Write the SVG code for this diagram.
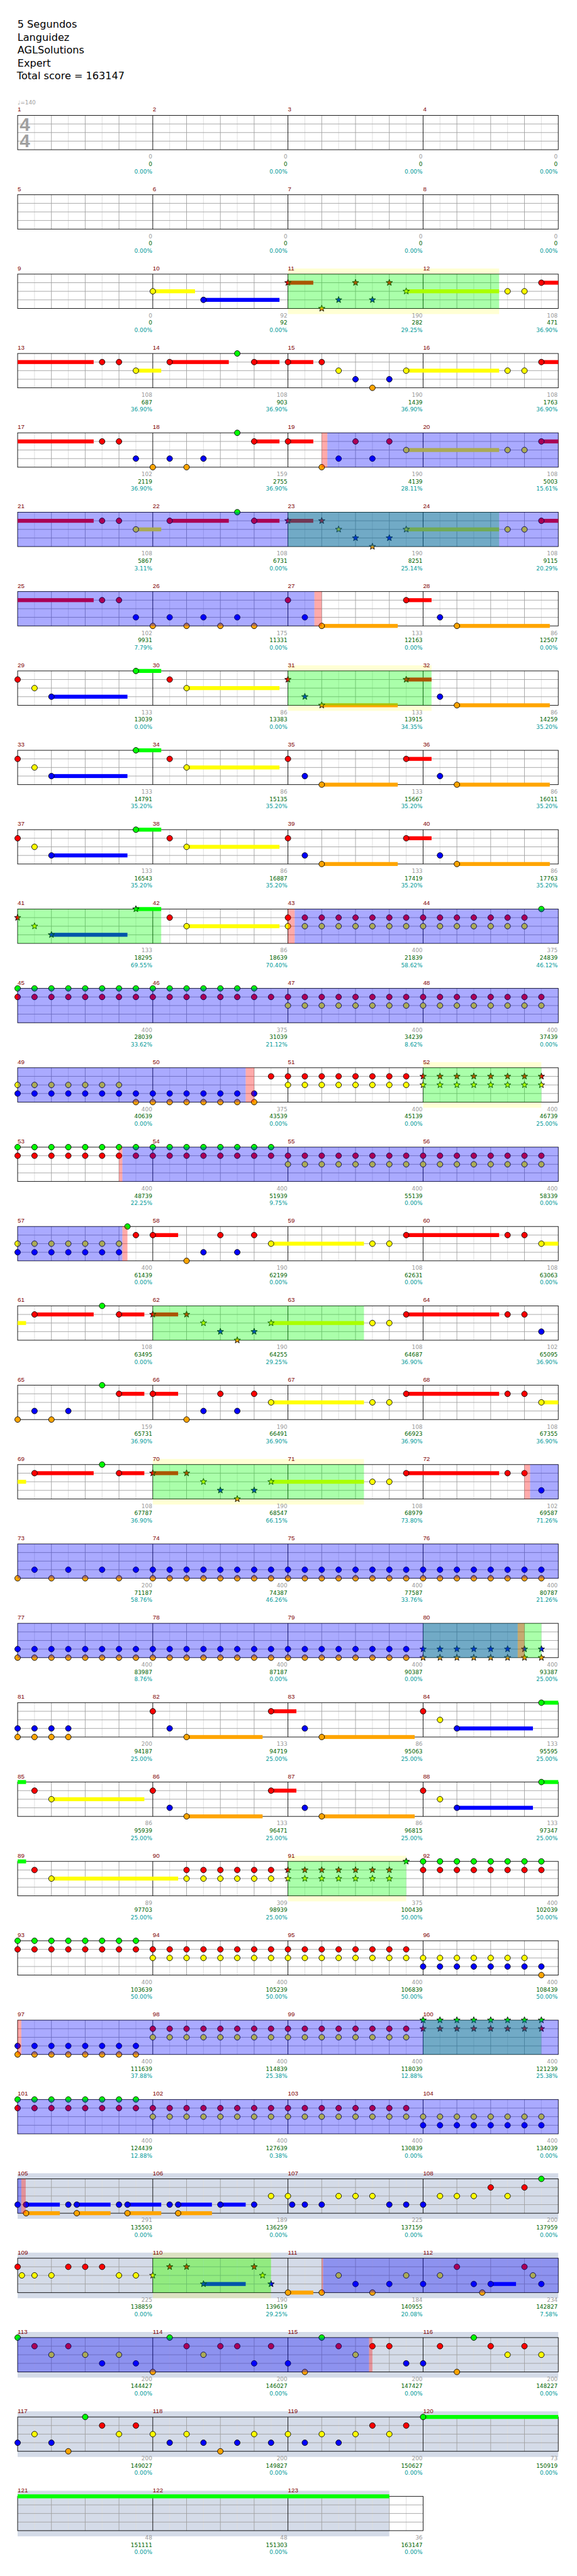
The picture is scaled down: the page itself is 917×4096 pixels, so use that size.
<svg xmlns="http://www.w3.org/2000/svg" width="917" height="4096" viewBox="0 0 917 4096">
<style>
.hd{font-family:"DejaVu Sans",sans-serif;font-size:18px;fill:#000}
.mn{font-family:"Liberation Sans",Arial,sans-serif;font-size:11px;fill:#800000}
.sc{font-family:"DejaVu Sans",Verdana,sans-serif;font-size:10px;text-anchor:end}
.ts{font-family:"Liberation Sans",Arial,sans-serif;font-weight:bold;font-size:33px;fill:#a0a0a0}
.tp{font-family:"DejaVu Sans",sans-serif;font-size:10px;fill:#a0a0a0}
.a{fill:#999}.b{fill:#006400}.c{fill:#009a9a}
.n{stroke:#000;stroke-width:1}
.og{fill:#0f0;fill-opacity:.333}
.ob{fill:#00f;fill-opacity:.333}
.op{fill:#f00;fill-opacity:.333}
.yb{fill:#ff0;fill-opacity:.17}
.gb{fill:#d4dbe8}
.wb{fill:#fff}
.lG{fill:#0f0}.lR{fill:#f00}.lY{fill:#ff0}.lB{fill:#00f}.lO{fill:#ffa500}
</style>
<defs>
<circle id="G" r="5" class="n" fill="#0f0"/>
<circle id="R" r="5" cy="15.25" class="n" fill="#f00"/>
<circle id="Y" r="5" cy="30.5" class="n" fill="#ff0"/>
<circle id="B" r="5" cy="45.75" class="n" fill="#00f"/>
<circle id="O" r="5" cy="61" class="n" fill="#ffa500"/>
<path id="st" d="M0,-6L1.47,-2.02L5.71,-1.85L2.38,0.77L3.53,4.85L0,2.5L-3.53,4.85L-2.38,0.77L-5.71,-1.85L-1.47,-2.02Z"/>
<use id="sG" href="#st" class="n" fill="#0f0"/>
<use id="sR" href="#st" y="15.25" class="n" fill="#f00"/>
<use id="sY" href="#st" y="30.5" class="n" fill="#ff0"/>
<use id="sB" href="#st" y="45.75" class="n" fill="#00f"/>
<use id="sO" href="#st" y="61" class="n" fill="#ffa500"/>
<g id="G8"><use href="#G"/><use href="#G" x="30"/><use href="#G" x="60"/><use href="#G" x="90"/><use href="#G" x="120"/><use href="#G" x="150"/><use href="#G" x="180"/><use href="#G" x="210"/></g>
<g id="R8"><use href="#R"/><use href="#R" x="30"/><use href="#R" x="60"/><use href="#R" x="90"/><use href="#R" x="120"/><use href="#R" x="150"/><use href="#R" x="180"/><use href="#R" x="210"/></g>
<g id="Y8"><use href="#Y"/><use href="#Y" x="30"/><use href="#Y" x="60"/><use href="#Y" x="90"/><use href="#Y" x="120"/><use href="#Y" x="150"/><use href="#Y" x="180"/><use href="#Y" x="210"/></g>
<g id="B8"><use href="#B"/><use href="#B" x="30"/><use href="#B" x="60"/><use href="#B" x="90"/><use href="#B" x="120"/><use href="#B" x="150"/><use href="#B" x="180"/><use href="#B" x="210"/></g>
<g id="O8"><use href="#O"/><use href="#O" x="30"/><use href="#O" x="60"/><use href="#O" x="90"/><use href="#O" x="120"/><use href="#O" x="150"/><use href="#O" x="180"/><use href="#O" x="210"/></g>
<g id="sG8"><use href="#sG"/><use href="#sG" x="30"/><use href="#sG" x="60"/><use href="#sG" x="90"/><use href="#sG" x="120"/><use href="#sG" x="150"/><use href="#sG" x="180"/><use href="#sG" x="210"/></g>
<g id="sR8"><use href="#sR"/><use href="#sR" x="30"/><use href="#sR" x="60"/><use href="#sR" x="90"/><use href="#sR" x="120"/><use href="#sR" x="150"/><use href="#sR" x="180"/><use href="#sR" x="210"/></g>
<g id="sY8"><use href="#sY"/><use href="#sY" x="30"/><use href="#sY" x="60"/><use href="#sY" x="90"/><use href="#sY" x="120"/><use href="#sY" x="150"/><use href="#sY" x="180"/><use href="#sY" x="210"/></g>
<g id="sB8"><use href="#sB"/><use href="#sB" x="30"/><use href="#sB" x="60"/><use href="#sB" x="90"/><use href="#sB" x="120"/><use href="#sB" x="150"/><use href="#sB" x="180"/><use href="#sB" x="210"/></g>
<g id="sO8"><use href="#sO"/><use href="#sO" x="30"/><use href="#sO" x="60"/><use href="#sO" x="90"/><use href="#sO" x="120"/><use href="#sO" x="150"/><use href="#sO" x="180"/><use href="#sO" x="210"/></g>
<g id="grid4" fill="none">
<path stroke="#dcdcdc" d="M30,0V61M90,0V61M150,0V61M210,0V61M270,0V61M330,0V61M390,0V61M450,0V61M510,0V61M570,0V61M630,0V61M690,0V61M750,0V61M810,0V61M870,0V61M930,0V61"/>
<path stroke="#a0a0a0" d="M0,15.25H960M0,30.5H960M0,45.75H960M60,0V61M120,0V61M180,0V61M300,0V61M360,0V61M420,0V61M540,0V61M600,0V61M660,0V61M780,0V61M840,0V61M900,0V61"/>
<path stroke="#000" d="M240,0V61M480,0V61M720,0V61"/>
<rect width="960" height="61" stroke="#000"/>
</g>
<g id="grid3" fill="none">
<path stroke="#dcdcdc" d="M30,0V61M90,0V61M150,0V61M210,0V61M270,0V61M330,0V61M390,0V61M450,0V61M510,0V61M570,0V61M630,0V61M690,0V61"/>
<path stroke="#a0a0a0" d="M0,15.25H720M0,30.5H720M0,45.75H720M60,0V61M120,0V61M180,0V61M300,0V61M360,0V61M420,0V61M540,0V61M600,0V61M660,0V61"/>
<path stroke="#000" d="M240,0V61M480,0V61"/>
<rect width="720" height="61" stroke="#000"/>
</g>
</defs>
<rect width="917" height="4096" fill="#fff"/>
<g transform="scale(0.895)">
<g id="header">
<text class="hd" x="31" y="49">5 Segundos</text>
<text class="hd" x="31" y="72.5">Languidez</text>
<text class="hd" x="31" y="95">AGLSolutions</text>
<text class="hd" x="31" y="118">Expert</text>
<text class="hd" x="30" y="141">Total score = 163147</text>
</g>

<g id="row-1" transform="translate(31.3,205)">
<use href="#grid4"/>
<text class="ts" x="3.7" y="27.3">4</text><text class="ts" x="3.7" y="56.7">4</text>
<text class="tp" x="0" y="-20">♩=140</text>
<text class="mn" y="-6.7"><tspan x="0">1</tspan><tspan x="240">2</tspan><tspan x="480">3</tspan><tspan x="720">4</tspan></text>
<text class="sc"><tspan class="a" x="239" y="77">0</tspan><tspan class="b" x="239" y="90">0</tspan><tspan class="c" x="239" y="103">0.00%</tspan><tspan class="a" x="479" y="77">0</tspan><tspan class="b" x="479" y="90">0</tspan><tspan class="c" x="479" y="103">0.00%</tspan><tspan class="a" x="719" y="77">0</tspan><tspan class="b" x="719" y="90">0</tspan><tspan class="c" x="719" y="103">0.00%</tspan><tspan class="a" x="959" y="77">0</tspan><tspan class="b" x="959" y="90">0</tspan><tspan class="c" x="959" y="103">0.00%</tspan></text>
</g>

<g id="row-2" transform="translate(31.3,346)">
<use href="#grid4"/>
<text class="mn" y="-6.7"><tspan x="0">5</tspan><tspan x="240">6</tspan><tspan x="480">7</tspan><tspan x="720">8</tspan></text>
<text class="sc"><tspan class="a" x="239" y="77">0</tspan><tspan class="b" x="239" y="90">0</tspan><tspan class="c" x="239" y="103">0.00%</tspan><tspan class="a" x="479" y="77">0</tspan><tspan class="b" x="479" y="90">0</tspan><tspan class="c" x="479" y="103">0.00%</tspan><tspan class="a" x="719" y="77">0</tspan><tspan class="b" x="719" y="90">0</tspan><tspan class="c" x="719" y="103">0.00%</tspan><tspan class="a" x="959" y="77">0</tspan><tspan class="b" x="959" y="90">0</tspan><tspan class="c" x="959" y="103">0.00%</tspan></text>
</g>

<g id="row-3" transform="translate(31.3,487)">
<rect class="yb" x="480" y="-10" width="375" height="81"/>
<rect class="wb" width="960" height="61"/>
<use href="#grid4"/>
<rect class="lY" x="240" y="27" width="75" height="7"/><rect class="lB" x="330" y="42.25" width="135" height="7"/><rect class="lR" x="480" y="11.75" width="45" height="7"/><rect class="lY" x="690" y="27" width="165" height="7"/><rect class="lR" x="930" y="11.75" width="30" height="7"/>
<use href="#Y" x="240"/><use href="#B" x="330"/><use href="#sR" x="480"/><use href="#sO" x="540"/><use href="#sB" x="570"/><use href="#sR" x="600"/><use href="#sB" x="630"/><use href="#sR" x="660"/><use href="#sY" x="690"/><use href="#Y" x="870"/><use href="#Y" x="900"/><use href="#R" x="930"/>
<rect class="og" x="480" width="375" height="61"/>
<text class="mn" y="-6.7"><tspan x="0">9</tspan><tspan x="240">10</tspan><tspan x="480">11</tspan><tspan x="720">12</tspan></text>
<text class="sc"><tspan class="a" x="239" y="77">0</tspan><tspan class="b" x="239" y="90">0</tspan><tspan class="c" x="239" y="103">0.00%</tspan><tspan class="a" x="479" y="77">92</tspan><tspan class="b" x="479" y="90">92</tspan><tspan class="c" x="479" y="103">0.00%</tspan><tspan class="a" x="719" y="77">190</tspan><tspan class="b" x="719" y="90">282</tspan><tspan class="c" x="719" y="103">29.25%</tspan><tspan class="a" x="959" y="77">108</tspan><tspan class="b" x="959" y="90">471</tspan><tspan class="c" x="959" y="103">36.90%</tspan></text>
</g>

<g id="row-4" transform="translate(31.3,628)">
<use href="#grid4"/>
<rect class="lR" x="0" y="11.75" width="135" height="7"/><rect class="lY" x="210" y="27" width="45" height="7"/><rect class="lR" x="270" y="11.75" width="105" height="7"/><rect class="lR" x="420" y="11.75" width="45" height="7"/><rect class="lR" x="480" y="11.75" width="45" height="7"/><rect class="lY" x="690" y="27" width="165" height="7"/><rect class="lR" x="930" y="11.75" width="30" height="7"/>
<use href="#R" x="150"/><use href="#R" x="180"/><use href="#Y" x="210"/><use href="#R" x="270"/><use href="#G" x="390"/><use href="#R" x="420"/><use href="#R" x="480"/><use href="#R" x="540"/><use href="#Y" x="570"/><use href="#B" x="600"/><use href="#O" x="630"/><use href="#B" x="660"/><use href="#Y" x="690"/><use href="#Y" x="870"/><use href="#Y" x="900"/><use href="#R" x="930"/>
<text class="mn" y="-6.7"><tspan x="0">13</tspan><tspan x="240">14</tspan><tspan x="480">15</tspan><tspan x="720">16</tspan></text>
<text class="sc"><tspan class="a" x="239" y="77">108</tspan><tspan class="b" x="239" y="90">687</tspan><tspan class="c" x="239" y="103">36.90%</tspan><tspan class="a" x="479" y="77">108</tspan><tspan class="b" x="479" y="90">903</tspan><tspan class="c" x="479" y="103">36.90%</tspan><tspan class="a" x="719" y="77">190</tspan><tspan class="b" x="719" y="90">1439</tspan><tspan class="c" x="719" y="103">36.90%</tspan><tspan class="a" x="959" y="77">108</tspan><tspan class="b" x="959" y="90">1763</tspan><tspan class="c" x="959" y="103">36.90%</tspan></text>
</g>

<g id="row-5" transform="translate(31.3,769)">
<use href="#grid4"/>
<rect class="lR" x="0" y="11.75" width="135" height="7"/><rect class="lR" x="420" y="11.75" width="45" height="7"/><rect class="lR" x="480" y="11.75" width="45" height="7"/><rect class="lY" x="690" y="27" width="165" height="7"/><rect class="lR" x="930" y="11.75" width="30" height="7"/>
<use href="#R" x="150"/><use href="#R" x="180"/><use href="#B" x="210"/><use href="#O" x="240"/><use href="#B" x="270"/><use href="#O" x="300"/><use href="#B" x="330"/><use href="#G" x="390"/><use href="#R" x="420"/><use href="#R" x="480"/><use href="#O" x="540"/><use href="#B" x="570"/><use href="#R" x="600"/><use href="#B" x="630"/><use href="#R" x="660"/><use href="#Y" x="690"/><use href="#Y" x="870"/><use href="#Y" x="900"/><use href="#R" x="930"/>
<rect class="op" x="540" width="10" height="61"/><rect class="ob" x="550" width="410" height="61"/>
<text class="mn" y="-6.7"><tspan x="0">17</tspan><tspan x="240">18</tspan><tspan x="480">19</tspan><tspan x="720">20</tspan></text>
<text class="sc"><tspan class="a" x="239" y="77">102</tspan><tspan class="b" x="239" y="90">2119</tspan><tspan class="c" x="239" y="103">36.90%</tspan><tspan class="a" x="479" y="77">159</tspan><tspan class="b" x="479" y="90">2755</tspan><tspan class="c" x="479" y="103">36.90%</tspan><tspan class="a" x="719" y="77">190</tspan><tspan class="b" x="719" y="90">4139</tspan><tspan class="c" x="719" y="103">28.11%</tspan><tspan class="a" x="959" y="77">108</tspan><tspan class="b" x="959" y="90">5003</tspan><tspan class="c" x="959" y="103">15.61%</tspan></text>
</g>

<g id="row-6" transform="translate(31.3,910)">
<use href="#grid4"/>
<rect class="lR" x="0" y="11.75" width="135" height="7"/><rect class="lY" x="210" y="27" width="45" height="7"/><rect class="lR" x="270" y="11.75" width="105" height="7"/><rect class="lR" x="420" y="11.75" width="45" height="7"/><rect class="lR" x="480" y="11.75" width="45" height="7"/><rect class="lY" x="690" y="27" width="165" height="7"/><rect class="lR" x="930" y="11.75" width="30" height="7"/>
<use href="#R" x="150"/><use href="#R" x="180"/><use href="#Y" x="210"/><use href="#R" x="270"/><use href="#G" x="390"/><use href="#R" x="420"/><use href="#sR" x="480"/><use href="#sR" x="540"/><use href="#sY" x="570"/><use href="#sB" x="600"/><use href="#sO" x="630"/><use href="#sB" x="660"/><use href="#sY" x="690"/><use href="#Y" x="870"/><use href="#Y" x="900"/><use href="#R" x="930"/>
<rect class="og" x="480" width="375" height="61"/><rect class="ob" width="960" height="61"/>
<text class="mn" y="-6.7"><tspan x="0">21</tspan><tspan x="240">22</tspan><tspan x="480">23</tspan><tspan x="720">24</tspan></text>
<text class="sc"><tspan class="a" x="239" y="77">108</tspan><tspan class="b" x="239" y="90">5867</tspan><tspan class="c" x="239" y="103">3.11%</tspan><tspan class="a" x="479" y="77">108</tspan><tspan class="b" x="479" y="90">6731</tspan><tspan class="c" x="479" y="103">0.00%</tspan><tspan class="a" x="719" y="77">190</tspan><tspan class="b" x="719" y="90">8251</tspan><tspan class="c" x="719" y="103">25.14%</tspan><tspan class="a" x="959" y="77">108</tspan><tspan class="b" x="959" y="90">9115</tspan><tspan class="c" x="959" y="103">20.29%</tspan></text>
</g>

<g id="row-7" transform="translate(31.3,1051)">
<use href="#grid4"/>
<rect class="lR" x="0" y="11.75" width="135" height="7"/><rect class="lO" x="540" y="57.5" width="135" height="7"/><rect class="lR" x="690" y="11.75" width="45" height="7"/><rect class="lO" x="780" y="57.5" width="165" height="7"/>
<use href="#R" x="150"/><use href="#R" x="180"/><use href="#B" x="210"/><use href="#O" x="240"/><use href="#B" x="270"/><use href="#O" x="300"/><use href="#B" x="330"/><use href="#O" x="360"/><use href="#B" x="390"/><use href="#O" x="420"/><use href="#R" x="480"/><use href="#B" x="510"/><use href="#O" x="540"/><use href="#R" x="690"/><use href="#B" x="750"/><use href="#O" x="780"/>
<rect class="ob" width="527" height="61"/><rect class="op" x="527" width="13" height="61"/>
<text class="mn" y="-6.7"><tspan x="0">25</tspan><tspan x="240">26</tspan><tspan x="480">27</tspan><tspan x="720">28</tspan></text>
<text class="sc"><tspan class="a" x="239" y="77">102</tspan><tspan class="b" x="239" y="90">9931</tspan><tspan class="c" x="239" y="103">7.79%</tspan><tspan class="a" x="479" y="77">175</tspan><tspan class="b" x="479" y="90">11331</tspan><tspan class="c" x="479" y="103">0.00%</tspan><tspan class="a" x="719" y="77">133</tspan><tspan class="b" x="719" y="90">12163</tspan><tspan class="c" x="719" y="103">0.00%</tspan><tspan class="a" x="959" y="77">86</tspan><tspan class="b" x="959" y="90">12507</tspan><tspan class="c" x="959" y="103">0.00%</tspan></text>
</g>

<g id="row-8" transform="translate(31.3,1192)">
<rect class="yb" x="480" y="-10" width="255" height="81"/>
<rect class="wb" width="960" height="61"/>
<use href="#grid4"/>
<rect class="lB" x="60" y="42.25" width="135" height="7"/><rect class="lG" x="210" y="-3.5" width="45" height="7"/><rect class="lY" x="300" y="27" width="165" height="7"/><rect class="lO" x="540" y="57.5" width="135" height="7"/><rect class="lR" x="690" y="11.75" width="45" height="7"/><rect class="lO" x="780" y="57.5" width="165" height="7"/>
<use href="#R"/><use href="#Y" x="30"/><use href="#B" x="60"/><use href="#G" x="210"/><use href="#R" x="270"/><use href="#Y" x="300"/><use href="#sR" x="480"/><use href="#sB" x="510"/><use href="#sO" x="540"/><use href="#sR" x="690"/><use href="#B" x="750"/><use href="#O" x="780"/>
<rect class="og" x="480" width="255" height="61"/>
<text class="mn" y="-6.7"><tspan x="0">29</tspan><tspan x="240">30</tspan><tspan x="480">31</tspan><tspan x="720">32</tspan></text>
<text class="sc"><tspan class="a" x="239" y="77">133</tspan><tspan class="b" x="239" y="90">13039</tspan><tspan class="c" x="239" y="103">0.00%</tspan><tspan class="a" x="479" y="77">86</tspan><tspan class="b" x="479" y="90">13383</tspan><tspan class="c" x="479" y="103">0.00%</tspan><tspan class="a" x="719" y="77">133</tspan><tspan class="b" x="719" y="90">13915</tspan><tspan class="c" x="719" y="103">34.35%</tspan><tspan class="a" x="959" y="77">86</tspan><tspan class="b" x="959" y="90">14259</tspan><tspan class="c" x="959" y="103">35.20%</tspan></text>
</g>

<g id="row-9" transform="translate(31.3,1333)">
<use href="#grid4"/>
<rect class="lB" x="60" y="42.25" width="135" height="7"/><rect class="lG" x="210" y="-3.5" width="45" height="7"/><rect class="lY" x="300" y="27" width="165" height="7"/><rect class="lO" x="540" y="57.5" width="135" height="7"/><rect class="lR" x="690" y="11.75" width="45" height="7"/><rect class="lO" x="780" y="57.5" width="165" height="7"/>
<use href="#R"/><use href="#Y" x="30"/><use href="#B" x="60"/><use href="#G" x="210"/><use href="#R" x="270"/><use href="#Y" x="300"/><use href="#R" x="480"/><use href="#B" x="510"/><use href="#O" x="540"/><use href="#R" x="690"/><use href="#B" x="750"/><use href="#O" x="780"/>
<text class="mn" y="-6.7"><tspan x="0">33</tspan><tspan x="240">34</tspan><tspan x="480">35</tspan><tspan x="720">36</tspan></text>
<text class="sc"><tspan class="a" x="239" y="77">133</tspan><tspan class="b" x="239" y="90">14791</tspan><tspan class="c" x="239" y="103">35.20%</tspan><tspan class="a" x="479" y="77">86</tspan><tspan class="b" x="479" y="90">15135</tspan><tspan class="c" x="479" y="103">35.20%</tspan><tspan class="a" x="719" y="77">133</tspan><tspan class="b" x="719" y="90">15667</tspan><tspan class="c" x="719" y="103">35.20%</tspan><tspan class="a" x="959" y="77">86</tspan><tspan class="b" x="959" y="90">16011</tspan><tspan class="c" x="959" y="103">35.20%</tspan></text>
</g>

<g id="row-10" transform="translate(31.3,1474)">
<use href="#grid4"/>
<rect class="lB" x="60" y="42.25" width="135" height="7"/><rect class="lG" x="210" y="-3.5" width="45" height="7"/><rect class="lY" x="300" y="27" width="165" height="7"/><rect class="lO" x="540" y="57.5" width="135" height="7"/><rect class="lR" x="690" y="11.75" width="45" height="7"/><rect class="lO" x="780" y="57.5" width="165" height="7"/>
<use href="#R"/><use href="#Y" x="30"/><use href="#B" x="60"/><use href="#G" x="210"/><use href="#R" x="270"/><use href="#Y" x="300"/><use href="#R" x="480"/><use href="#B" x="510"/><use href="#O" x="540"/><use href="#R" x="690"/><use href="#B" x="750"/><use href="#O" x="780"/>
<text class="mn" y="-6.7"><tspan x="0">37</tspan><tspan x="240">38</tspan><tspan x="480">39</tspan><tspan x="720">40</tspan></text>
<text class="sc"><tspan class="a" x="239" y="77">133</tspan><tspan class="b" x="239" y="90">16543</tspan><tspan class="c" x="239" y="103">35.20%</tspan><tspan class="a" x="479" y="77">86</tspan><tspan class="b" x="479" y="90">16887</tspan><tspan class="c" x="479" y="103">35.20%</tspan><tspan class="a" x="719" y="77">133</tspan><tspan class="b" x="719" y="90">17419</tspan><tspan class="c" x="719" y="103">35.20%</tspan><tspan class="a" x="959" y="77">86</tspan><tspan class="b" x="959" y="90">17763</tspan><tspan class="c" x="959" y="103">35.20%</tspan></text>
</g>

<g id="row-11" transform="translate(31.3,1615)">
<use href="#grid4"/>
<rect class="lB" x="60" y="42.25" width="135" height="7"/><rect class="lG" x="210" y="-3.5" width="45" height="7"/><rect class="lY" x="300" y="27" width="165" height="7"/>
<use href="#sR"/><use href="#sY" x="30"/><use href="#sB" x="60"/><use href="#sG" x="210"/><use href="#R" x="270"/><use href="#Y" x="300"/>
<use href="#R8" x="480"/><use href="#R" x="720"/><use href="#R" x="750"/><use href="#R" x="780"/><use href="#R" x="810"/><use href="#R" x="840"/><use href="#R" x="870"/><use href="#R" x="900"/>
<use href="#Y8" x="480"/><use href="#Y" x="720"/><use href="#Y" x="750"/><use href="#Y" x="780"/><use href="#Y" x="810"/><use href="#Y" x="840"/><use href="#Y" x="870"/><use href="#Y" x="900"/><use href="#G" x="930"/>
<rect class="og" width="255" height="61"/><rect class="op" x="480" width="12" height="61"/><rect class="ob" x="492" width="468" height="61"/>
<text class="mn" y="-6.7"><tspan x="0">41</tspan><tspan x="240">42</tspan><tspan x="480">43</tspan><tspan x="720">44</tspan></text>
<text class="sc"><tspan class="a" x="239" y="77">133</tspan><tspan class="b" x="239" y="90">18295</tspan><tspan class="c" x="239" y="103">69.55%</tspan><tspan class="a" x="479" y="77">86</tspan><tspan class="b" x="479" y="90">18639</tspan><tspan class="c" x="479" y="103">70.40%</tspan><tspan class="a" x="719" y="77">400</tspan><tspan class="b" x="719" y="90">21839</tspan><tspan class="c" x="719" y="103">58.62%</tspan><tspan class="a" x="959" y="77">375</tspan><tspan class="b" x="959" y="90">24839</tspan><tspan class="c" x="959" y="103">46.12%</tspan></text>
</g>

<g id="row-12" transform="translate(31.3,1756)">
<use href="#grid4"/>
<use href="#G8"/><use href="#G" x="240"/><use href="#G" x="270"/><use href="#G" x="300"/><use href="#G" x="330"/><use href="#G" x="360"/><use href="#G" x="390"/><use href="#G" x="420"/>
<use href="#R8"/><use href="#R8" x="240"/><use href="#R8" x="480"/><use href="#R8" x="720"/>
<use href="#Y8" x="480"/><use href="#Y8" x="720"/>
<rect class="ob" width="960" height="61"/>
<text class="mn" y="-6.7"><tspan x="0">45</tspan><tspan x="240">46</tspan><tspan x="480">47</tspan><tspan x="720">48</tspan></text>
<text class="sc"><tspan class="a" x="239" y="77">400</tspan><tspan class="b" x="239" y="90">28039</tspan><tspan class="c" x="239" y="103">33.62%</tspan><tspan class="a" x="479" y="77">375</tspan><tspan class="b" x="479" y="90">31039</tspan><tspan class="c" x="479" y="103">21.12%</tspan><tspan class="a" x="719" y="77">400</tspan><tspan class="b" x="719" y="90">34239</tspan><tspan class="c" x="719" y="103">8.62%</tspan><tspan class="a" x="959" y="77">400</tspan><tspan class="b" x="959" y="90">37439</tspan><tspan class="c" x="959" y="103">0.00%</tspan></text>
</g>

<g id="row-13" transform="translate(31.3,1897)">
<rect class="yb" x="720" y="-10" width="210" height="81"/>
<rect class="wb" width="960" height="61"/>
<use href="#grid4"/>
<use href="#Y"/><use href="#Y" x="30"/><use href="#Y" x="60"/><use href="#Y" x="90"/><use href="#Y" x="120"/><use href="#Y" x="150"/><use href="#Y" x="180"/>
<use href="#B8"/><use href="#B" x="240"/><use href="#B" x="270"/><use href="#B" x="300"/><use href="#B" x="330"/><use href="#B" x="360"/><use href="#B" x="390"/><use href="#B" x="420"/>
<use href="#O8" x="210"/><use href="#R" x="450"/><use href="#R8" x="480"/><use href="#Y8" x="480"/><use href="#sR8" x="720"/><use href="#sY8" x="720"/>
<rect class="ob" width="405" height="61"/><rect class="op" x="405" width="15" height="61"/><rect class="og" x="720" width="210" height="61"/>
<text class="mn" y="-6.7"><tspan x="0">49</tspan><tspan x="240">50</tspan><tspan x="480">51</tspan><tspan x="720">52</tspan></text>
<text class="sc"><tspan class="a" x="239" y="77">400</tspan><tspan class="b" x="239" y="90">40639</tspan><tspan class="c" x="239" y="103">0.00%</tspan><tspan class="a" x="479" y="77">375</tspan><tspan class="b" x="479" y="90">43539</tspan><tspan class="c" x="479" y="103">0.00%</tspan><tspan class="a" x="719" y="77">400</tspan><tspan class="b" x="719" y="90">45139</tspan><tspan class="c" x="719" y="103">0.00%</tspan><tspan class="a" x="959" y="77">400</tspan><tspan class="b" x="959" y="90">46739</tspan><tspan class="c" x="959" y="103">25.00%</tspan></text>
</g>

<g id="row-14" transform="translate(31.3,2038)">
<use href="#grid4"/>
<use href="#G8"/><use href="#G8" x="240"/>
<use href="#R8"/><use href="#R8" x="240"/><use href="#R8" x="480"/><use href="#R8" x="720"/>
<use href="#Y8" x="480"/><use href="#Y8" x="720"/>
<rect class="op" x="180" width="6" height="61"/><rect class="ob" x="186" width="774" height="61"/>
<text class="mn" y="-6.7"><tspan x="0">53</tspan><tspan x="240">54</tspan><tspan x="480">55</tspan><tspan x="720">56</tspan></text>
<text class="sc"><tspan class="a" x="239" y="77">400</tspan><tspan class="b" x="239" y="90">48739</tspan><tspan class="c" x="239" y="103">22.25%</tspan><tspan class="a" x="479" y="77">400</tspan><tspan class="b" x="479" y="90">51939</tspan><tspan class="c" x="479" y="103">9.75%</tspan><tspan class="a" x="719" y="77">400</tspan><tspan class="b" x="719" y="90">55139</tspan><tspan class="c" x="719" y="103">0.00%</tspan><tspan class="a" x="959" y="77">400</tspan><tspan class="b" x="959" y="90">58339</tspan><tspan class="c" x="959" y="103">0.00%</tspan></text>
</g>

<g id="row-15" transform="translate(31.3,2179)">
<use href="#grid4"/>
<rect class="lR" x="240" y="11.75" width="45" height="7"/><rect class="lY" x="450" y="27" width="165" height="7"/><rect class="lR" x="690" y="11.75" width="165" height="7"/><rect class="lY" x="930" y="27" width="30" height="7"/>
<use href="#Y"/><use href="#Y" x="30"/><use href="#Y" x="60"/><use href="#Y" x="90"/><use href="#Y" x="120"/><use href="#Y" x="150"/><use href="#Y" x="180"/>
<use href="#B"/><use href="#B" x="30"/><use href="#B" x="60"/><use href="#B" x="90"/><use href="#B" x="120"/><use href="#B" x="150"/><use href="#B" x="180"/>
<use href="#G" x="195"/><use href="#R" x="210"/><use href="#R" x="240"/><use href="#O" x="300"/><use href="#B" x="330"/><use href="#R" x="360"/><use href="#B" x="390"/><use href="#R" x="420"/><use href="#Y" x="450"/><use href="#Y" x="630"/><use href="#Y" x="660"/><use href="#R" x="690"/><use href="#R" x="870"/><use href="#R" x="900"/><use href="#Y" x="930"/>
<rect class="ob" width="186" height="61"/><rect class="op" x="186" width="9" height="61"/>
<text class="mn" y="-6.7"><tspan x="0">57</tspan><tspan x="240">58</tspan><tspan x="480">59</tspan><tspan x="720">60</tspan></text>
<text class="sc"><tspan class="a" x="239" y="77">400</tspan><tspan class="b" x="239" y="90">61439</tspan><tspan class="c" x="239" y="103">0.00%</tspan><tspan class="a" x="479" y="77">190</tspan><tspan class="b" x="479" y="90">62199</tspan><tspan class="c" x="479" y="103">0.00%</tspan><tspan class="a" x="719" y="77">108</tspan><tspan class="b" x="719" y="90">62631</tspan><tspan class="c" x="719" y="103">0.00%</tspan><tspan class="a" x="959" y="77">108</tspan><tspan class="b" x="959" y="90">63063</tspan><tspan class="c" x="959" y="103">0.00%</tspan></text>
</g>

<g id="row-16" transform="translate(31.3,2320)">
<use href="#grid4"/>
<rect class="lY" x="0" y="27" width="15" height="7"/><rect class="lR" x="30" y="11.75" width="105" height="7"/><rect class="lR" x="180" y="11.75" width="45" height="7"/><rect class="lR" x="240" y="11.75" width="45" height="7"/><rect class="lY" x="450" y="27" width="165" height="7"/><rect class="lR" x="690" y="11.75" width="165" height="7"/>
<use href="#R" x="30"/><use href="#G" x="150"/><use href="#R" x="180"/><use href="#sR" x="240"/><use href="#sR" x="300"/><use href="#sY" x="330"/><use href="#sB" x="360"/><use href="#sO" x="390"/><use href="#sB" x="420"/><use href="#sY" x="450"/><use href="#Y" x="630"/><use href="#Y" x="660"/><use href="#R" x="690"/><use href="#R" x="870"/><use href="#R" x="900"/><use href="#B" x="930"/>
<rect class="og" x="240" width="375" height="61"/>
<text class="mn" y="-6.7"><tspan x="0">61</tspan><tspan x="240">62</tspan><tspan x="480">63</tspan><tspan x="720">64</tspan></text>
<text class="sc"><tspan class="a" x="239" y="77">108</tspan><tspan class="b" x="239" y="90">63495</tspan><tspan class="c" x="239" y="103">0.00%</tspan><tspan class="a" x="479" y="77">190</tspan><tspan class="b" x="479" y="90">64255</tspan><tspan class="c" x="479" y="103">29.25%</tspan><tspan class="a" x="719" y="77">108</tspan><tspan class="b" x="719" y="90">64687</tspan><tspan class="c" x="719" y="103">36.90%</tspan><tspan class="a" x="959" y="77">102</tspan><tspan class="b" x="959" y="90">65095</tspan><tspan class="c" x="959" y="103">36.90%</tspan></text>
</g>

<g id="row-17" transform="translate(31.3,2461)">
<use href="#grid4"/>
<rect class="lR" x="180" y="11.75" width="45" height="7"/><rect class="lR" x="240" y="11.75" width="45" height="7"/><rect class="lY" x="450" y="27" width="165" height="7"/><rect class="lR" x="690" y="11.75" width="165" height="7"/><rect class="lY" x="930" y="27" width="30" height="7"/>
<use href="#O"/><use href="#B" x="30"/><use href="#O" x="60"/><use href="#B" x="90"/><use href="#G" x="150"/><use href="#R" x="180"/><use href="#R" x="240"/><use href="#O" x="300"/><use href="#B" x="330"/><use href="#R" x="360"/><use href="#B" x="390"/><use href="#R" x="420"/><use href="#Y" x="450"/><use href="#Y" x="630"/><use href="#Y" x="660"/><use href="#R" x="690"/><use href="#R" x="870"/><use href="#R" x="900"/><use href="#Y" x="930"/>
<text class="mn" y="-6.7"><tspan x="0">65</tspan><tspan x="240">66</tspan><tspan x="480">67</tspan><tspan x="720">68</tspan></text>
<text class="sc"><tspan class="a" x="239" y="77">159</tspan><tspan class="b" x="239" y="90">65731</tspan><tspan class="c" x="239" y="103">36.90%</tspan><tspan class="a" x="479" y="77">190</tspan><tspan class="b" x="479" y="90">66491</tspan><tspan class="c" x="479" y="103">36.90%</tspan><tspan class="a" x="719" y="77">108</tspan><tspan class="b" x="719" y="90">66923</tspan><tspan class="c" x="719" y="103">36.90%</tspan><tspan class="a" x="959" y="77">108</tspan><tspan class="b" x="959" y="90">67355</tspan><tspan class="c" x="959" y="103">36.90%</tspan></text>
</g>

<g id="row-18" transform="translate(31.3,2602)">
<rect class="yb" x="240" y="-10" width="375" height="81"/>
<rect class="wb" width="960" height="61"/>
<use href="#grid4"/>
<rect class="lY" x="0" y="27" width="15" height="7"/><rect class="lR" x="30" y="11.75" width="105" height="7"/><rect class="lR" x="180" y="11.75" width="45" height="7"/><rect class="lR" x="240" y="11.75" width="45" height="7"/><rect class="lY" x="450" y="27" width="165" height="7"/><rect class="lR" x="690" y="11.75" width="165" height="7"/>
<use href="#R" x="30"/><use href="#G" x="150"/><use href="#R" x="180"/><use href="#sR" x="240"/><use href="#sR" x="300"/><use href="#sY" x="330"/><use href="#sB" x="360"/><use href="#sO" x="390"/><use href="#sB" x="420"/><use href="#sY" x="450"/><use href="#Y" x="630"/><use href="#Y" x="660"/><use href="#R" x="690"/><use href="#R" x="870"/><use href="#R" x="900"/><use href="#B" x="930"/>
<rect class="og" x="240" width="375" height="61"/><rect class="op" x="900" width="10" height="61"/><rect class="ob" x="910" width="50" height="61"/>
<text class="mn" y="-6.7"><tspan x="0">69</tspan><tspan x="240">70</tspan><tspan x="480">71</tspan><tspan x="720">72</tspan></text>
<text class="sc"><tspan class="a" x="239" y="77">108</tspan><tspan class="b" x="239" y="90">67787</tspan><tspan class="c" x="239" y="103">36.90%</tspan><tspan class="a" x="479" y="77">190</tspan><tspan class="b" x="479" y="90">68547</tspan><tspan class="c" x="479" y="103">66.15%</tspan><tspan class="a" x="719" y="77">108</tspan><tspan class="b" x="719" y="90">68979</tspan><tspan class="c" x="719" y="103">73.80%</tspan><tspan class="a" x="959" y="77">102</tspan><tspan class="b" x="959" y="90">69587</tspan><tspan class="c" x="959" y="103">71.26%</tspan></text>
</g>

<g id="row-19" transform="translate(31.3,2743)">
<use href="#grid4"/>
<use href="#O"/><use href="#O" x="60"/><use href="#O" x="120"/><use href="#O" x="180"/><use href="#B" x="30"/><use href="#B" x="90"/><use href="#B" x="150"/><use href="#B" x="210"/>
<use href="#B8" x="240"/><use href="#B8" x="480"/><use href="#B8" x="720"/><use href="#O8" x="240"/><use href="#O8" x="480"/><use href="#O8" x="720"/>
<rect class="ob" width="960" height="61"/>
<text class="mn" y="-6.7"><tspan x="0">73</tspan><tspan x="240">74</tspan><tspan x="480">75</tspan><tspan x="720">76</tspan></text>
<text class="sc"><tspan class="a" x="239" y="77">200</tspan><tspan class="b" x="239" y="90">71187</tspan><tspan class="c" x="239" y="103">58.76%</tspan><tspan class="a" x="479" y="77">400</tspan><tspan class="b" x="479" y="90">74387</tspan><tspan class="c" x="479" y="103">46.26%</tspan><tspan class="a" x="719" y="77">400</tspan><tspan class="b" x="719" y="90">77587</tspan><tspan class="c" x="719" y="103">33.76%</tspan><tspan class="a" x="959" y="77">400</tspan><tspan class="b" x="959" y="90">80787</tspan><tspan class="c" x="959" y="103">21.26%</tspan></text>
</g>

<g id="row-20" transform="translate(31.3,2884)">
<use href="#grid4"/>
<use href="#B8"/><use href="#B8" x="240"/><use href="#B8" x="480"/><use href="#O8"/><use href="#O8" x="240"/><use href="#O8" x="480"/><use href="#sB8" x="720"/><use href="#sO8" x="720"/>
<rect class="og" x="720" width="210" height="61"/><rect class="ob" width="888" height="61"/><rect class="op" x="888" width="12" height="61"/>
<text class="mn" y="-6.7"><tspan x="0">77</tspan><tspan x="240">78</tspan><tspan x="480">79</tspan><tspan x="720">80</tspan></text>
<text class="sc"><tspan class="a" x="239" y="77">400</tspan><tspan class="b" x="239" y="90">83987</tspan><tspan class="c" x="239" y="103">8.76%</tspan><tspan class="a" x="479" y="77">400</tspan><tspan class="b" x="479" y="90">87187</tspan><tspan class="c" x="479" y="103">0.00%</tspan><tspan class="a" x="719" y="77">400</tspan><tspan class="b" x="719" y="90">90387</tspan><tspan class="c" x="719" y="103">0.00%</tspan><tspan class="a" x="959" y="77">400</tspan><tspan class="b" x="959" y="90">93387</tspan><tspan class="c" x="959" y="103">25.00%</tspan></text>
</g>

<g id="row-21" transform="translate(31.3,3025)">
<use href="#grid4"/>
<rect class="lO" x="300" y="57.5" width="135" height="7"/><rect class="lR" x="450" y="11.75" width="45" height="7"/><rect class="lO" x="540" y="57.5" width="165" height="7"/><rect class="lB" x="780" y="42.25" width="135" height="7"/><rect class="lG" x="930" y="-3.5" width="30" height="7"/>
<use href="#B"/><use href="#B" x="30"/><use href="#B" x="60"/><use href="#B" x="90"/><use href="#O"/><use href="#O" x="30"/><use href="#O" x="60"/><use href="#O" x="90"/>
<use href="#R" x="240"/><use href="#B" x="270"/><use href="#O" x="300"/><use href="#R" x="450"/><use href="#B" x="510"/><use href="#O" x="540"/><use href="#R" x="720"/><use href="#Y" x="750"/><use href="#B" x="780"/><use href="#G" x="930"/>
<text class="mn" y="-6.7"><tspan x="0">81</tspan><tspan x="240">82</tspan><tspan x="480">83</tspan><tspan x="720">84</tspan></text>
<text class="sc"><tspan class="a" x="239" y="77">200</tspan><tspan class="b" x="239" y="90">94187</tspan><tspan class="c" x="239" y="103">25.00%</tspan><tspan class="a" x="479" y="77">133</tspan><tspan class="b" x="479" y="90">94719</tspan><tspan class="c" x="479" y="103">25.00%</tspan><tspan class="a" x="719" y="77">86</tspan><tspan class="b" x="719" y="90">95063</tspan><tspan class="c" x="719" y="103">25.00%</tspan><tspan class="a" x="959" y="77">133</tspan><tspan class="b" x="959" y="90">95595</tspan><tspan class="c" x="959" y="103">25.00%</tspan></text>
</g>

<g id="row-22" transform="translate(31.3,3166)">
<use href="#grid4"/>
<rect class="lG" x="0" y="-3.5" width="15" height="7"/><rect class="lY" x="60" y="27" width="165" height="7"/><rect class="lO" x="300" y="57.5" width="135" height="7"/><rect class="lR" x="450" y="11.75" width="45" height="7"/><rect class="lO" x="540" y="57.5" width="165" height="7"/><rect class="lB" x="780" y="42.25" width="135" height="7"/><rect class="lG" x="930" y="-3.5" width="30" height="7"/>
<use href="#R" x="30"/><use href="#Y" x="60"/><use href="#R" x="240"/><use href="#B" x="270"/><use href="#O" x="300"/><use href="#R" x="450"/><use href="#B" x="510"/><use href="#O" x="540"/><use href="#R" x="720"/><use href="#Y" x="750"/><use href="#B" x="780"/><use href="#G" x="930"/>
<text class="mn" y="-6.7"><tspan x="0">85</tspan><tspan x="240">86</tspan><tspan x="480">87</tspan><tspan x="720">88</tspan></text>
<text class="sc"><tspan class="a" x="239" y="77">86</tspan><tspan class="b" x="239" y="90">95939</tspan><tspan class="c" x="239" y="103">25.00%</tspan><tspan class="a" x="479" y="77">133</tspan><tspan class="b" x="479" y="90">96471</tspan><tspan class="c" x="479" y="103">25.00%</tspan><tspan class="a" x="719" y="77">86</tspan><tspan class="b" x="719" y="90">96815</tspan><tspan class="c" x="719" y="103">25.00%</tspan><tspan class="a" x="959" y="77">133</tspan><tspan class="b" x="959" y="90">97347</tspan><tspan class="c" x="959" y="103">25.00%</tspan></text>
</g>

<g id="row-23" transform="translate(31.3,3307)">
<rect class="yb" x="480" y="-10" width="210" height="81"/>
<rect class="wb" width="960" height="61"/>
<use href="#grid4"/>
<rect class="lG" x="0" y="-3.5" width="15" height="7"/><rect class="lY" x="60" y="27" width="225" height="7"/>
<use href="#R" x="30"/><use href="#Y" x="60"/>
<use href="#R" x="300"/><use href="#R" x="330"/><use href="#R" x="360"/><use href="#R" x="390"/><use href="#R" x="420"/><use href="#R" x="450"/>
<use href="#Y" x="300"/><use href="#Y" x="330"/><use href="#Y" x="360"/><use href="#Y" x="390"/><use href="#Y" x="420"/><use href="#Y" x="450"/>
<use href="#sR" x="480"/><use href="#sR" x="510"/><use href="#sR" x="540"/><use href="#sR" x="570"/><use href="#sR" x="600"/><use href="#sR" x="630"/><use href="#sR" x="660"/>
<use href="#sY" x="480"/><use href="#sY" x="510"/><use href="#sY" x="540"/><use href="#sY" x="570"/><use href="#sY" x="600"/><use href="#sY" x="630"/><use href="#sY" x="660"/>
<use href="#sG" x="690"/><use href="#G8" x="720"/><use href="#R8" x="720"/>
<rect class="og" x="480" width="210" height="61"/>
<text class="mn" y="-6.7"><tspan x="0">89</tspan><tspan x="240">90</tspan><tspan x="480">91</tspan><tspan x="720">92</tspan></text>
<text class="sc"><tspan class="a" x="239" y="77">89</tspan><tspan class="b" x="239" y="90">97703</tspan><tspan class="c" x="239" y="103">25.00%</tspan><tspan class="a" x="479" y="77">309</tspan><tspan class="b" x="479" y="90">98939</tspan><tspan class="c" x="479" y="103">25.00%</tspan><tspan class="a" x="719" y="77">375</tspan><tspan class="b" x="719" y="90">100439</tspan><tspan class="c" x="719" y="103">50.00%</tspan><tspan class="a" x="959" y="77">400</tspan><tspan class="b" x="959" y="90">102039</tspan><tspan class="c" x="959" y="103">50.00%</tspan></text>
</g>

<g id="row-24" transform="translate(31.3,3448)">
<use href="#grid4"/>
<use href="#G8"/><use href="#R8"/><use href="#R8" x="240"/><use href="#R8" x="480"/><use href="#Y8" x="240"/><use href="#Y8" x="480"/>
<use href="#Y" x="720"/><use href="#Y" x="750"/><use href="#Y" x="780"/><use href="#Y" x="810"/><use href="#Y" x="840"/><use href="#Y" x="870"/><use href="#Y" x="900"/>
<use href="#B8" x="720"/><use href="#O" x="930"/>
<text class="mn" y="-6.7"><tspan x="0">93</tspan><tspan x="240">94</tspan><tspan x="480">95</tspan><tspan x="720">96</tspan></text>
<text class="sc"><tspan class="a" x="239" y="77">400</tspan><tspan class="b" x="239" y="90">103639</tspan><tspan class="c" x="239" y="103">50.00%</tspan><tspan class="a" x="479" y="77">400</tspan><tspan class="b" x="479" y="90">105239</tspan><tspan class="c" x="479" y="103">50.00%</tspan><tspan class="a" x="719" y="77">400</tspan><tspan class="b" x="719" y="90">106839</tspan><tspan class="c" x="719" y="103">50.00%</tspan><tspan class="a" x="959" y="77">400</tspan><tspan class="b" x="959" y="90">108439</tspan><tspan class="c" x="959" y="103">50.00%</tspan></text>
</g>

<g id="row-25" transform="translate(31.3,3589)">
<use href="#grid4"/>
<use href="#B8"/><use href="#O8"/><use href="#R8" x="240"/><use href="#R8" x="480"/><use href="#Y8" x="240"/><use href="#Y8" x="480"/><use href="#sG8" x="720"/><use href="#sR8" x="720"/>
<rect class="og" x="720" width="210" height="61"/><rect class="op" width="6.6" height="61"/><rect class="ob" x="6.6" width="953.4" height="61"/>
<text class="mn" y="-6.7"><tspan x="0">97</tspan><tspan x="240">98</tspan><tspan x="480">99</tspan><tspan x="720">100</tspan></text>
<text class="sc"><tspan class="a" x="239" y="77">400</tspan><tspan class="b" x="239" y="90">111639</tspan><tspan class="c" x="239" y="103">37.88%</tspan><tspan class="a" x="479" y="77">400</tspan><tspan class="b" x="479" y="90">114839</tspan><tspan class="c" x="479" y="103">25.38%</tspan><tspan class="a" x="719" y="77">400</tspan><tspan class="b" x="719" y="90">118039</tspan><tspan class="c" x="719" y="103">12.88%</tspan><tspan class="a" x="959" y="77">400</tspan><tspan class="b" x="959" y="90">121239</tspan><tspan class="c" x="959" y="103">25.38%</tspan></text>
</g>

<g id="row-26" transform="translate(31.3,3730)">
<use href="#grid4"/>
<use href="#G8"/><use href="#R8"/><use href="#R8" x="240"/><use href="#R8" x="480"/><use href="#Y8" x="240"/><use href="#Y8" x="480"/><use href="#Y8" x="720"/><use href="#B8" x="720"/>
<rect class="ob" width="960" height="61"/>
<text class="mn" y="-6.7"><tspan x="0">101</tspan><tspan x="240">102</tspan><tspan x="480">103</tspan><tspan x="720">104</tspan></text>
<text class="sc"><tspan class="a" x="239" y="77">400</tspan><tspan class="b" x="239" y="90">124439</tspan><tspan class="c" x="239" y="103">12.88%</tspan><tspan class="a" x="479" y="77">400</tspan><tspan class="b" x="479" y="90">127639</tspan><tspan class="c" x="479" y="103">0.38%</tspan><tspan class="a" x="719" y="77">400</tspan><tspan class="b" x="719" y="90">130839</tspan><tspan class="c" x="719" y="103">0.00%</tspan><tspan class="a" x="959" y="77">400</tspan><tspan class="b" x="959" y="90">134039</tspan><tspan class="c" x="959" y="103">0.00%</tspan></text>
</g>

<g id="row-27" transform="translate(31.3,3871)">
<rect class="gb" y="-10" width="960" height="81"/>
<use href="#grid4"/>
<rect class="lB" x="15" y="42.25" width="60" height="7"/><rect class="lO" x="15" y="57.5" width="60" height="7"/><rect class="lB" x="105" y="42.25" width="60" height="7"/><rect class="lO" x="105" y="57.5" width="60" height="7"/><rect class="lB" x="195" y="42.25" width="60" height="7"/><rect class="lO" x="195" y="57.5" width="60" height="7"/><rect class="lB" x="285" y="42.25" width="60" height="7"/><rect class="lO" x="285" y="57.5" width="60" height="7"/><rect class="lB" x="360" y="42.25" width="45" height="7"/>
<use href="#B"/><use href="#B" x="15"/><use href="#O" x="15"/><use href="#B" x="90"/><use href="#B" x="105"/><use href="#O" x="105"/><use href="#B" x="180"/><use href="#B" x="195"/><use href="#O" x="195"/><use href="#B" x="270"/><use href="#B" x="285"/><use href="#O" x="285"/><use href="#B" x="360"/><use href="#B" x="420"/><use href="#Y" x="450"/><use href="#Y" x="480"/><use href="#B" x="487.5"/><use href="#B" x="510"/><use href="#B" x="540"/><use href="#Y" x="570"/><use href="#Y" x="600"/><use href="#Y" x="630"/><use href="#B" x="660"/><use href="#B" x="690"/><use href="#B" x="720"/><use href="#Y" x="750"/><use href="#Y" x="780"/><use href="#Y" x="810"/><use href="#R" x="840"/><use href="#Y" x="870"/><use href="#R" x="900"/><use href="#G" x="930"/>
<rect class="ob" width="6.6" height="61"/><rect class="op" x="6.6" width="7.8" height="61"/>
<text class="mn" y="-6.7"><tspan x="0">105</tspan><tspan x="240">106</tspan><tspan x="480">107</tspan><tspan x="720">108</tspan></text>
<text class="sc"><tspan class="a" x="239" y="77">291</tspan><tspan class="b" x="239" y="90">135503</tspan><tspan class="c" x="239" y="103">0.00%</tspan><tspan class="a" x="479" y="77">189</tspan><tspan class="b" x="479" y="90">136259</tspan><tspan class="c" x="479" y="103">0.00%</tspan><tspan class="a" x="719" y="77">225</tspan><tspan class="b" x="719" y="90">137159</tspan><tspan class="c" x="719" y="103">0.00%</tspan><tspan class="a" x="959" y="77">200</tspan><tspan class="b" x="959" y="90">137959</tspan><tspan class="c" x="959" y="103">0.00%</tspan></text>
</g>

<g id="row-28" transform="translate(31.3,4012)">
<rect class="gb" y="-10" width="960" height="81"/>
<rect class="yb" x="240" y="-10" width="210" height="81"/>
<use href="#grid4"/>
<rect class="lB" x="330" y="42.25" width="75" height="7"/><rect class="lO" x="480" y="57.5" width="45" height="7"/><rect class="lB" x="840" y="42.25" width="45" height="7"/>
<use href="#R"/><use href="#Y" x="7.5"/><use href="#Y" x="30"/><use href="#Y" x="60"/><use href="#R" x="90"/><use href="#R" x="120"/><use href="#R" x="150"/><use href="#Y" x="180"/><use href="#Y" x="210"/>
<use href="#sY" x="240"/><use href="#sR" x="270"/><use href="#sR" x="300"/><use href="#sB" x="330"/><use href="#sR" x="420"/><use href="#sY" x="435"/><use href="#sB" x="450"/>
<use href="#O" x="480"/><use href="#O" x="540"/><use href="#Y" x="570"/><use href="#B" x="600"/><use href="#O" x="630"/><use href="#B" x="660"/><use href="#Y" x="690"/><use href="#B" x="720"/><use href="#Y" x="750"/><use href="#R" x="780"/><use href="#B" x="810"/><use href="#O" x="825"/><use href="#B" x="840"/><use href="#R" x="900"/><use href="#Y" x="915"/><use href="#B" x="930"/>
<rect class="og" x="240" width="210" height="61"/><rect class="op" x="540" width="2.5" height="61"/><rect class="ob" x="542.5" width="417.5" height="61"/>
<text class="mn" y="-6.7"><tspan x="0">109</tspan><tspan x="240">110</tspan><tspan x="480">111</tspan><tspan x="720">112</tspan></text>
<text class="sc"><tspan class="a" x="239" y="77">225</tspan><tspan class="b" x="239" y="90">138859</tspan><tspan class="c" x="239" y="103">0.00%</tspan><tspan class="a" x="479" y="77">190</tspan><tspan class="b" x="479" y="90">139619</tspan><tspan class="c" x="479" y="103">29.25%</tspan><tspan class="a" x="719" y="77">184</tspan><tspan class="b" x="719" y="90">140955</tspan><tspan class="c" x="719" y="103">20.08%</tspan><tspan class="a" x="959" y="77">234</tspan><tspan class="b" x="959" y="90">142827</tspan><tspan class="c" x="959" y="103">7.58%</tspan></text>
</g>

<g id="row-29" transform="translate(31.3,4153)">
<rect class="gb" y="-10" width="960" height="81"/>
<use href="#grid4"/>
<use href="#G"/><use href="#R" x="30"/><use href="#Y" x="60"/><use href="#R" x="90"/><use href="#Y" x="120"/><use href="#B" x="150"/><use href="#Y" x="180"/><use href="#B" x="210"/><use href="#O" x="240"/><use href="#G" x="270"/><use href="#R" x="300"/><use href="#Y" x="330"/><use href="#R" x="360"/><use href="#R" x="390"/><use href="#B" x="420"/><use href="#R" x="450"/><use href="#B" x="480"/><use href="#O" x="510"/><use href="#G" x="540"/><use href="#R" x="570"/><use href="#Y" x="600"/><use href="#R" x="630"/><use href="#R" x="660"/><use href="#B" x="690"/><use href="#B" x="720"/><use href="#R" x="750"/><use href="#O" x="780"/><use href="#G" x="810"/><use href="#R" x="840"/><use href="#Y" x="870"/><use href="#R" x="900"/><use href="#Y" x="930"/>
<rect class="ob" width="624" height="61"/><rect class="op" x="624" width="6" height="61"/>
<text class="mn" y="-6.7"><tspan x="0">113</tspan><tspan x="240">114</tspan><tspan x="480">115</tspan><tspan x="720">116</tspan></text>
<text class="sc"><tspan class="a" x="239" y="77">200</tspan><tspan class="b" x="239" y="90">144427</tspan><tspan class="c" x="239" y="103">0.00%</tspan><tspan class="a" x="479" y="77">200</tspan><tspan class="b" x="479" y="90">146027</tspan><tspan class="c" x="479" y="103">0.00%</tspan><tspan class="a" x="719" y="77">200</tspan><tspan class="b" x="719" y="90">147427</tspan><tspan class="c" x="719" y="103">0.00%</tspan><tspan class="a" x="959" y="77">200</tspan><tspan class="b" x="959" y="90">148227</tspan><tspan class="c" x="959" y="103">0.00%</tspan></text>
</g>

<g id="row-30" transform="translate(31.3,4294)">
<rect class="gb" y="-10" width="960" height="81"/>
<use href="#grid4"/>
<rect class="lG" x="720" y="-3.5" width="240" height="7"/>
<use href="#B"/><use href="#Y" x="30"/><use href="#B" x="60"/><use href="#O" x="90"/><use href="#G" x="120"/><use href="#R" x="150"/><use href="#Y" x="180"/><use href="#R" x="210"/><use href="#Y" x="240"/><use href="#B" x="270"/><use href="#Y" x="300"/><use href="#B" x="330"/><use href="#O" x="360"/><use href="#B" x="390"/><use href="#Y" x="420"/><use href="#B" x="450"/><use href="#Y" x="480"/><use href="#B" x="510"/><use href="#Y" x="540"/><use href="#B" x="570"/><use href="#Y" x="600"/><use href="#R" x="630"/><use href="#Y" x="660"/><use href="#R" x="690"/><use href="#G" x="720"/>
<text class="mn" y="-6.7"><tspan x="0">117</tspan><tspan x="240">118</tspan><tspan x="480">119</tspan><tspan x="720">120</tspan></text>
<text class="sc"><tspan class="a" x="239" y="77">200</tspan><tspan class="b" x="239" y="90">149027</tspan><tspan class="c" x="239" y="103">0.00%</tspan><tspan class="a" x="479" y="77">200</tspan><tspan class="b" x="479" y="90">149827</tspan><tspan class="c" x="479" y="103">0.00%</tspan><tspan class="a" x="719" y="77">200</tspan><tspan class="b" x="719" y="90">150627</tspan><tspan class="c" x="719" y="103">0.00%</tspan><tspan class="a" x="959" y="77">73</tspan><tspan class="b" x="959" y="90">150919</tspan><tspan class="c" x="959" y="103">0.00%</tspan></text>
</g>

<g id="row-31" transform="translate(31.3,4435)">
<rect class="gb" y="-10" width="660" height="81"/>
<use href="#grid3"/>
<rect class="lG" x="0" y="-3.5" width="660" height="7"/>
<text class="mn" y="-6.7"><tspan x="0">121</tspan><tspan x="240">122</tspan><tspan x="480">123</tspan></text>
<text class="sc"><tspan class="a" x="239" y="77">48</tspan><tspan class="b" x="239" y="90">151111</tspan><tspan class="c" x="239" y="103">0.00%</tspan><tspan class="a" x="479" y="77">48</tspan><tspan class="b" x="479" y="90">151303</tspan><tspan class="c" x="479" y="103">0.00%</tspan><tspan class="a" x="719" y="77">36</tspan><tspan class="b" x="719" y="90">163147</tspan><tspan class="c" x="719" y="103">0.00%</tspan></text>
</g>
</g>
</svg>
